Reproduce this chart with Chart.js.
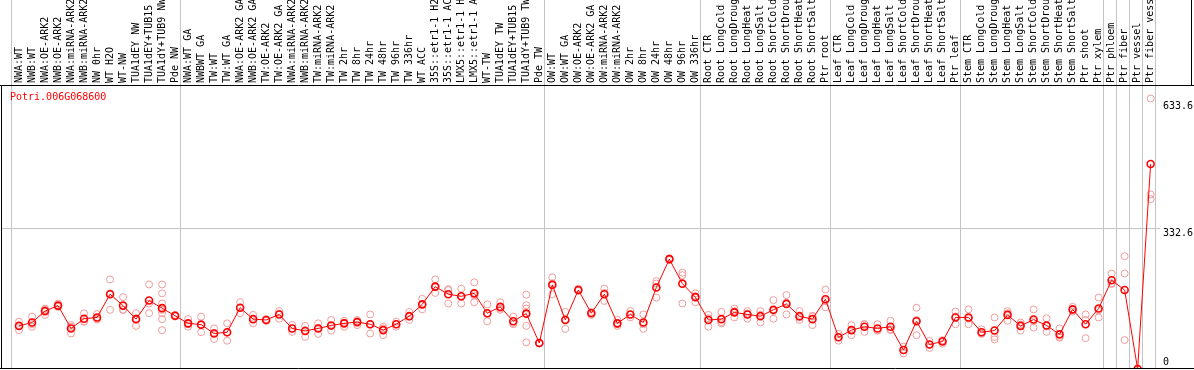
<!DOCTYPE html>
<html>
<head>
<meta charset="utf-8">
<script src="https://cdn.jsdelivr.net/npm/chart.js@4/dist/chart.umd.min.js"></script>
<style>
  html, body { margin: 0; padding: 0; background: #fff; }
</style>
</head>
<body>
<canvas id="chart" width="1194" height="370"></canvas>
<script>
// gene shown in the corner
var geneName = 'Potri.006G068600';

var labels = [
    'NWA:WT', 'NWB:WT', 'NWA:OE-ARK2', 'NWB:OE-ARK2', 'NWA:miRNA-ARK2', 'NWB:miRNA-ARK2',
    'NW 0hr', 'WT H2O', 'WT-NW', 'TUA1dEY NW', 'TUA1dEY+TUB15 NW', 'TUA1dY+TUB9 NW', 'Pde NW',
    'NWA:WT GA', 'NWBWT GA', 'TW:WT', 'TW:WT GA', 'NWA:OE-ARK2 GA', 'NWB:OE-ARK2 GA',
    'TW:OE-ARK2', 'TW:OE-ARK2 GA', 'NWA:miRNA-ARK2 GA', 'NWB:miRNA-ARK2 GA', 'TW:miRNA-ARK2',
    'TW:miRNA-ARK2 GA', 'TW 2hr', 'TW 8hr', 'TW 24hr', 'TW 48hr', 'TW 96hr', 'TW 336hr', 'WT ACC',
    '35S::etr1-1 H2O', '35S::etr1-1 ACC', 'LMX5::etr1-1 H2O', 'LMX5::etr1-1 ACC', 'WT-TW',
    'TUA1dEY TW', 'TUA1dEY+TUB15 TW', 'TUA1dY+TUB9 TW', 'Pde TW',
    'OW:WT', 'OW:WT GA', 'OW:OE-ARK2', 'OW:OE-ARK2 GA', 'OW:miRNA-ARK2', 'OW:miRNA-ARK2 GA',
    'OW 2hr', 'OW 8hr', 'OW 24hr', 'OW 48hr', 'OW 96hr', 'OW 336hr',
    'Root CTR', 'Root LongCold', 'Root LongDrought', 'Root LongHeat', 'Root LongSalt',
    'Root ShortCold', 'Root ShortDrought', 'Root ShortHeat', 'Root ShortSalt', 'Ptr root',
    'Leaf CTR', 'Leaf LongCold', 'Leaf LongDrought', 'Leaf LongHeat', 'Leaf LongSalt',
    'Leaf ShortCold', 'Leaf ShortDrought', 'Leaf ShortHeat', 'Leaf ShortSalt', 'Ptr leaf',
    'Stem CTR', 'Stem LongCold', 'Stem LongDrought', 'Stem LongHeat', 'Stem LongSalt',
    'Stem ShortCold', 'Stem ShortDrought', 'Stem ShortHeat', 'Stem ShortSalt', 'Ptr shoot',
    'Ptr xylem', 'Ptr phloem', 'Ptr fiber', 'Ptr vessel', 'Ptr fiber vessel'
];

// mean of each sample
var means = [
    102, 110, 137, 150, 96, 119, 122, 177, 150, 118, 162, 144, 126,
    108, 105, 84, 87, 145, 118, 116, 129, 96, 90, 96, 103, 108, 111, 106, 92, 106, 125, 153,
    195, 177, 172, 179, 132, 147, 113, 131, 61.5,
    199, 116, 187, 132, 177, 108, 129, 110, 193, 260, 202, 170,
    116, 118, 134, 129, 125, 140, 154, 125, 118, 165,
    75, 92, 100, 96, 100, 45, 113, 58, 65, 122,
    122, 87, 91, 128, 102, 117, 103, 82, 141, 106,
    143, 210, 187, 0, 485
];

// single replicates
var reps = [
    [112, 92, 102], [124, 100, 106], [143, 128, 140], [155, 149, 147], [104, 84, 100],
    [132, 112, 113], [130, 119, 117], [212, 140, 179], [170, 140, 140], [132, 102, 120],
    [200, 132, 155], [200, 179, 155, 140, 132, 118, 92], [128, 124, 126],
    [118, 100, 106], [124, 87, 104], [96, 71, 85], [108, 67, 86], [158, 132, 145],
    [128, 108, 118], [118, 114, 116], [137, 119, 131], [104, 88, 96], [102, 76, 92],
    [108, 83, 97], [116, 91, 102], [114, 100, 110], [116, 104, 113], [129, 84, 105],
    [100, 80, 96], [112, 100, 106], [135, 116, 124], [166, 141, 152], [212, 180, 193],
    [189, 155, 187], [190, 155, 171], [205, 158, 174], [153, 113, 130], [158, 140, 143],
    [124, 106, 109], [176, 151, 143, 131, 102, 63], [62, 61, 61],
    [217, 177, 203], [135, 95, 118], [190, 185, 186], [135, 128, 133], [190, 161, 180],
    [116, 102, 106], [137, 122, 128], [129, 95, 106], [208, 169, 202], [262, 258, 260],
    [228, 222, 155], [179, 158, 172],
    [128, 100, 120], [135, 108, 111], [143, 122, 137], [137, 119, 131], [137, 110, 128],
    [163, 119, 137], [175, 129, 157], [137, 116, 122], [124, 104, 126], [188, 146, 161],
    [83, 67, 75], [104, 80, 92], [106, 88, 106], [106, 91, 91], [114, 92, 94],
    [53, 37, 45], [145, 80, 116], [66, 50, 58], [68, 60, 67], [136, 106, 124],
    [141, 106, 119], [94, 83, 84], [122, 76, 70], [137, 114, 132], [110, 91, 105],
    [141, 98, 113], [120, 88, 101], [96, 74, 76], [147, 140, 136], [129, 73, 116],
    [169, 122, 139], [226, 203, 201], [267, 226, 68.5], [0, 0, 0], [640, 413, 402]
];

var yTicks = [0, 332.6, 633.6];
var yGridValue = 332.6;
var yMax = 672;

// last sample of each group (-1 = before the first one)
var groupEnds = [-1, 12, 40, 52, 62, 72, 83, 84, 85, 86, 87];

var monoFont = 'DejaVu Sans Mono';

var meanPoints = means.map(function (v, i) {
    return {x: i, y: v};
});
var repPoints = [];
reps.forEach(function (list, i) {
    list.forEach(function (v) {
        repPoints.push({x: i, y: v});
    });
});

// no extra room for first/last tick labels
function noPadding(scale) {
    scale.paddingLeft = 0;
    scale.paddingRight = 0;
    scale.paddingTop = 0;
    scale.paddingBottom = 0;
}

var framePlugin = {
    id: 'frame',
    beforeDatasetsDraw: function (chart) {
        var ctx = chart.ctx;
        var area = chart.chartArea;
        var xs = chart.scales.x;
        ctx.save();
        ctx.strokeStyle = '#c4c4c4';
        ctx.lineWidth = 1;
        groupEnds.forEach(function (i) {
            var px = Math.round(xs.getPixelForValue(i + 0.35)) + 0.5;
            ctx.beginPath();
            ctx.moveTo(px, 0);
            ctx.lineTo(px, area.bottom);
            ctx.stroke();
        });
        ctx.restore();
    },
    afterDraw: function (chart) {
        var ctx = chart.ctx;
        var area = chart.chartArea;
        var ys = chart.scales.y;
        var w = chart.width;
        ctx.save();
        ctx.strokeStyle = '#000';
        ctx.lineWidth = 1;
        ctx.beginPath();
        ctx.moveTo(0, area.top + 0.5);
        ctx.lineTo(w, area.top + 0.5);
        ctx.moveTo(0, area.bottom - 0.5);
        ctx.lineTo(w, area.bottom - 0.5);
        ctx.moveTo(1.5, area.top);
        ctx.lineTo(1.5, area.bottom);
        ctx.moveTo(w - 2.5, 0);
        ctx.lineTo(w - 2.5, area.top);
        ctx.stroke();

        ctx.font = '10px "' + monoFont + '"';
        ctx.textAlign = 'left';
        ctx.textBaseline = 'middle';
        ctx.fillStyle = '#ff0000';
        ctx.fillText(geneName, 10, area.top + 12);

        ctx.fillStyle = '#000';
        yTicks.forEach(function (v) {
            var py = ys.getPixelForValue(v);
            var off = v === 0 ? -7 : 5;
            ctx.fillText(String(v), area.right + 3, py + off);
        });
        ctx.restore();
    }
};

var ctx = document.getElementById('chart');
var myChart = new Chart(ctx, {
    type: 'line',
    data: {
        datasets: [{
                label: 'mean',
                data: meanPoints,
                borderColor: '#ff0000',
                borderWidth: 1,
                pointStyle: 'circle',
                pointRadius: 3.5,
                pointBorderWidth: 1.6,
                pointBorderColor: '#ff0000',
                pointBackgroundColor: 'rgba(0,0,0,0)',
                tension: 0,
                order: 1
            }, {
                type: 'scatter',
                label: 'replicates',
                data: repPoints,
                showLine: false,
                pointStyle: 'circle',
                pointRadius: 3.5,
                pointBorderWidth: 1,
                pointBorderColor: '#ef9c9c',
                pointBackgroundColor: 'rgba(0,0,0,0)',
                order: 2
            }]
    },
    options: {
        responsive: false,
        animation: false,
        layout: {
            autoPadding: false,
            padding: {left: 2, right: 0, top: 0, bottom: 1}
        },
        plugins: {
            legend: {display: false},
            tooltip: {enabled: false}
        },
        scales: {
            x: {
                type: 'linear',
                position: 'top',
                min: -1.307,
                max: 87.72,
                afterBuildTicks: function (scale) {
                    scale.ticks = labels.map(function (l, i) {
                        return {value: i};
                    });
                },
                afterFit: function (scale) {
                    scale.height = 85;
                    noPadding(scale);
                },
                grid: {display: false, drawTicks: false},
                border: {display: false},
                ticks: {
                    autoSkip: false,
                    minRotation: 90,
                    maxRotation: 90,
                    padding: 2,
                    labelOffset: 12,
                    color: '#000',
                    font: {family: monoFont, size: 10},
                    callback: function (value) {
                        return labels[value];
                    }
                }
            },
            y: {
                type: 'linear',
                position: 'right',
                min: 0,
                max: yMax,
                afterBuildTicks: function (scale) {
                    scale.ticks = yTicks.map(function (v) {
                        return {value: v};
                    });
                },
                afterFit: function (scale) {
                    scale.width = 34;
                    noPadding(scale);
                },
                grid: {
                    drawTicks: false,
                    color: function (c) {
                        return c.tick && c.tick.value === yGridValue ? '#c4c4c4' : 'rgba(0,0,0,0)';
                    }
                },
                border: {display: false},
                ticks: {display: false}
            }
        }
    },
    plugins: [framePlugin]
});
</script>
</body>
</html>
